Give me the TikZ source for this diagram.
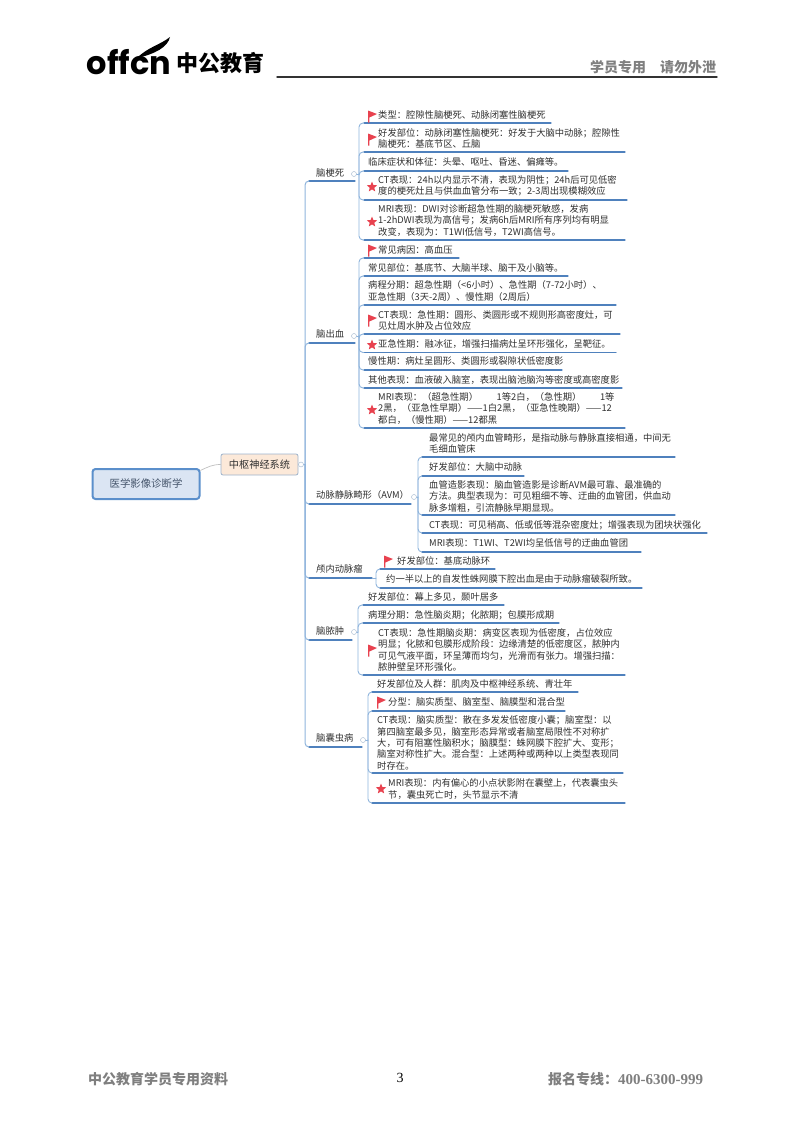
\documentclass[tikz,border=0pt]{standalone}
\usepackage{fontspec}
\setmainfont{Noto Sans CJK SC}
\newfontfamily\numfont{Liberation Serif}
\newfontfamily\logofont{Poppins}
\usetikzlibrary{shapes.geometric}
\definecolor{linkblue}{HTML}{4F81BD}
\definecolor{trunkblue}{HTML}{8FB4DC}
\definecolor{markred}{HTML}{E8424F}
\definecolor{rootfill}{HTML}{DBE5F3}
\definecolor{rootline}{HTML}{5B8FCB}
\definecolor{rootink}{HTML}{44546A}
\definecolor{subjfill}{HTML}{FCE9D9}
\definecolor{subjline}{HTML}{9DB3CB}
\definecolor{headgrey}{HTML}{7F7F7F}
\definecolor{leafink}{HTML}{303030}
\begin{document}
\begin{tikzpicture}[x=1pt,y=-1pt,line join=round,line cap=round,
	leaf/.style={anchor=west,align=left,inner sep=0pt,text=leafink,font=\fontsize{9.3}{11.4}\selectfont},
	branch/.style={anchor=west,inner sep=0pt,text=leafink,font=\fontsize{9.3}{11.4}\selectfont},
	under/.style={draw=linkblue,line width=1.1pt},
	link/.style={draw=trunkblue,line width=0.9pt,rounded corners=4pt},
	trunk/.style={draw=trunkblue,line width=1pt,rounded corners=4pt},
	fold/.style={circle,draw=subjline,fill=white,line width=0.4pt,inner sep=0pt,minimum size=5pt},
	markstar/.style={star,star points=5,star point ratio=2.3,fill=markred,inner sep=0pt,minimum size=11pt},
	headtext/.style={anchor=west,inner sep=0pt,text=headgrey,font=\fontsize{14}{16}\selectfont\bfseries}]
	\useasboundingbox (0,0) rectangle (800,1132);
	\def\leaf#1#2#3#4#5#6#7{
		\node[leaf] (#1) at (#2,#3) {#4};
		\coordinate (#1-s) at (#5,#7);
		\coordinate (#1-e) at (#6,#7);
		\draw[under] (#1-s)--(#1-e);
	}
	\def\branch#1#2#3#4#5#6{
		\node[branch] (#1) at (316,#2) {#3};
		\coordinate (#1-s) at (#4,#6);
		\coordinate (#1-e) at (#5,#6);
		\draw[under] (#1-s)--(#1-e);
	}
	\def\flagmark(#1,#2){
		\fill[markred,shift={(#1,#2)}] (-4,-5.5)--(5,-2)--(-2.6,1.5)--(-2.6,6.5)--(-4,6.5)--cycle;
	}

	\node[inner sep=0pt] (logotext) at (129,62) {\logofont\fontsize{32}{32}\selectfont\bfseries offcn};
	\fill[black] (137,58) .. controls (148,47) and (160,45) .. (170,37) .. controls (168,47) and (155,54) .. (137,58);
	\node[anchor=west,inner sep=0pt,font=\fontsize{22}{24}\selectfont\bfseries] (brand) at (176,63) {中公教育};
	\node[headtext] (headnote) at (590,67) {学员专用\hspace{1em}请勿外泄};
	\coordinate (rule-s) at (277,77);
	\coordinate (rule-e) at (717,77);
	\draw[line width=1.4pt,black!80] (rule-s)--(rule-e);

	\node[draw=rootline,fill=rootfill,line width=2pt,rounded corners=3pt,minimum width=107pt,minimum height=30pt,
		text=rootink,font=\fontsize{10.4}{12}\selectfont] (root) at (146,484) {医学影像诊断学};
	\node[draw=subjline,fill=subjfill,line width=0.8pt,rounded corners=2pt,minimum width=77pt,minimum height=21pt,
		text=leafink,font=\fontsize{10.2}{12}\selectfont] (subject) at (259.5,464.5) {中枢神经系统};
	\draw[black!25,line width=0.7pt] (root.14) to[out=25,in=180] (subject.west);
	\node[fold] (foldS) at (301,464.5) {};
	\coordinate (axis) at (305,464.5);
	\draw[trunkblue,line width=0.7pt] (foldS)--(axis);

	\branch{bGeng}{173}{脑梗死}{309}{355}{181}
	\branch{bChu}{334}{脑出血}{309}{355}{343}
	\branch{bAvm}{495}{动脉静脉畸形（AVM）}{309}{411}{504}
	\branch{bLu}{569}{颅内动脉瘤}{309}{372}{578}
	\branch{bNong}{631}{脑脓肿}{309}{352}{640}
	\branch{bNang}{738}{脑囊虫病}{309}{362}{747}
	\foreach \n in {bGeng,bChu,bAvm,bLu,bNong,bNang}
		\draw[trunk] (axis) |- (\n-s);

	\leaf{gA}{378}{115}{类型：腔隙性脑梗死、动脉闭塞性脑梗死}{364}{551}{123}
	\leaf{gB}{378}{138.5}{好发部位：动脉闭塞性脑梗死：好发于大脑中动脉；腔隙性\\脑梗死：基底节区、丘脑}{364}{625}{152}
	\leaf{gC}{368}{162}{临床症状和体征：头晕、呕吐、昏迷、偏瘫等。}{364}{568}{171}
	\leaf{gD}{378}{186}{CT表现：24h以内显示不清，表现为阴性；24h后可见低密\\度的梗死灶且与供血血管分布一致；2-3周出现模糊效应}{364}{627}{200}
	\leaf{gE}{378}{220.5}{MRI表现：DWI对诊断超急性期的脑梗死敏感，发病\\1-2hDWI表现为高信号；发病6h后MRI所有序列均有明显\\改变，表现为：T1WI低信号，T2WI高信号。}{364}{625}{240}
	\flagmark(372,116)
	\flagmark(372,139)
	\node[markstar] (starGD) at (372,187) {};
	\node[markstar] (starGE) at (372,222) {};
	\node[fold] (foldG) at (354,174) {};
	\coordinate (joinG) at (359,174);
	\draw[link] (foldG)--(joinG);
	\foreach \n in {gA,gB,gC,gD,gE}
		\draw[link] (joinG) |- (\n-s);

	\leaf{cA}{378}{250}{常见病因：高血压}{364}{459}{258}
	\leaf{cB}{368}{268}{常见部位：基底节、大脑半球、脑干及小脑等。}{364}{568}{276}
	\leaf{cC}{368}{291}{病程分期：超急性期（<6小时）、急性期（7-72小时）、\\亚急性期（3天-2周）、慢性期（2周后）}{364}{616}{305}
	\leaf{cD}{378}{320.5}{CT表现：急性期：圆形、类圆形或不规则形高密度灶，可\\见灶周水肿及占位效应}{364}{620}{334}
	\leaf{cE}{378}{344}{亚急性期：融冰征，增强扫描病灶呈环形强化，呈靶征。}{364}{616}{352.5}
	\leaf{cF}{368}{361}{慢性期：病灶呈圆形、类圆形或裂隙状低密度影}{364}{562}{370}
	\leaf{cG}{368}{380}{其他表现：血液破入脑室，表现出脑池脑沟等密度或高密度影}{364}{622}{388}
	\leaf{cH}{378}{408.5}{MRI表现：（超急性期）\hspace{2em}1等2白，（急性期）\hspace{2em}1等\\2黑，（亚急性早期）——1白2黑，（亚急性晚期）——12\\都白，（慢性期）——12都黑}{364}{625}{428}
	\flagmark(372,250)
	\flagmark(372,320)
	\node[markstar] (starCE) at (372,345) {};
	\node[markstar] (starCH) at (372,410) {};
	\node[fold] (foldC) at (354,336) {};
	\coordinate (joinC) at (359,336);
	\draw[link] (foldC)--(joinC);
	\foreach \n in {cA,cB,cC,cD,cE,cF,cG,cH}
		\draw[link] (joinC) |- (\n-s);

	\leaf{aA}{429}{443.5}{最常见的颅内血管畸形，是指动脉与静脉直接相通，中间无\\毛细血管床}{422}{675}{457}
	\leaf{aB}{429}{467}{好发部位：大脑中动脉}{422}{524}{476}
	\leaf{aC}{429}{496.5}{血管造影表现：脑血管造影是诊断AVM最可靠、最准确的\\方法。典型表现为：可见粗细不等、迂曲的血管团，供血动\\脉多增粗，引流静脉早期显现。}{422}{675}{515}
	\leaf{aD}{429}{525}{CT表现：可见稍高、低或低等混杂密度灶；增强表现为团块状强化}{422}{707}{533}
	\leaf{aE}{429}{543}{MRI表现：T1WI、T2WI均呈低信号的迂曲血管团}{422}{641}{552}
	\node[fold] (foldA) at (414,497) {};
	\coordinate (joinA) at (418,497);
	\draw[link] (foldA)--(joinA);
	\foreach \n in {aA,aB,aC,aD,aE}
		\draw[link] (joinA) |- (\n-s);

	\leaf{lA}{397}{561}{好发部位：基底动脉环}{380}{495}{569}
	\leaf{lB}{386}{579}{约一半以上的自发性蛛网膜下腔出血是由于动脉瘤破裂所致。}{380}{642}{588}
	\flagmark(388,561)
	\coordinate (joinL) at (376,578);
	\draw[link] (bLu-e)--(joinL);
	\foreach \n in {lA,lB}
		\draw[link] (joinL) |- (\n-s);

	\leaf{nA}{368}{597}{好发部位：幕上多见，颞叶居多}{363}{504}{605}
	\leaf{nB}{368}{615}{病理分期：急性脑炎期；化脓期；包膜形成期}{363}{559}{623}
	\leaf{nC}{378}{650}{CT表现：急性期脑炎期：病变区表现为低密度，占位效应\\明显；化脓和包膜形成阶段：边缘清楚的低密度区，脓肿内\\可见气液平面，环呈薄而均匀，光滑而有张力。增强扫描：\\脓肿壁呈环形强化。}{363}{625}{675}
	\flagmark(372,650)
	\node[fold] (foldN) at (354,632) {};
	\coordinate (joinN) at (358,632);
	\draw[link] (foldN)--(joinN);
	\foreach \n in {nA,nB,nC}
		\draw[link] (joinN) |- (\n-s);

	\leaf{sA}{377}{684}{好发部位及人群：肌肉及中枢神经系统、青壮年}{372}{578}{692}
	\leaf{sB}{388}{702}{分型：脑实质型、脑室型、脑膜型和混合型}{372}{565}{711}
	\leaf{sC}{377}{743}{CT表现：脑实质型：散在多发发低密度小囊；脑室型：以\\第四脑室最多见，脑室形态异常或者脑室局限性不对称扩\\大，可有阻塞性脑积水；脑膜型：蛛网膜下腔扩大、变形；\\脑室对称性扩大。混合型：上述两种或两种以上类型表现同\\时存在。}{372}{623}{773}
	\leaf{sD}{388}{789}{MRI表现：内有偏心的小点状影附在囊壁上，代表囊虫头\\节，囊虫死亡时，头节显示不清}{372}{625}{803}
	\flagmark(381,702)
	\node[markstar] (starSD) at (381,789) {};
	\node[fold] (foldU) at (363,740) {};
	\coordinate (joinU) at (368,740);
	\draw[link] (foldU)--(joinU);
	\foreach \n in {sA,sB,sC,sD}
		\draw[link] (joinU) |- (\n-s);

	\node[headtext] (footleft) at (88,1079) {中公教育学员专用资料};
	\node[inner sep=0pt,font=\fontsize{14}{16}\selectfont\numfont] (pagenum) at (400,1078) {3};
	\node[headtext] (footright) at (548,1079) {报名专线：{\numfont\bfseries\fontsize{15}{16}\selectfont 400-6300-999}};
\end{tikzpicture}
\end{document}
